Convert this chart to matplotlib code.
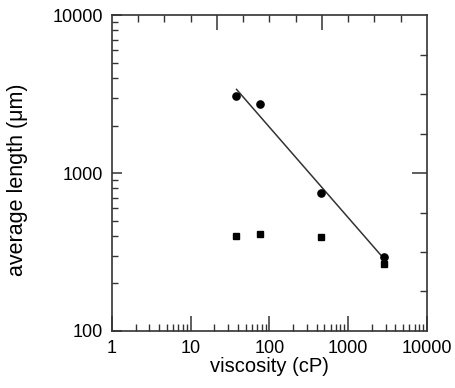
import numpy as np
import matplotlib
matplotlib.use("Agg")
import matplotlib.pyplot as plt
from matplotlib.ticker import LogLocator, NullFormatter, FixedLocator

plt.rcParams['font.family'] = ['Liberation Sans', 'DejaVu Sans']

viscosity = [37.6, 75.7, 451, 2870]
length_circles = [3085, 2735, 744, 295]
length_squares = [401, 411, 392, 264]
x_ticks = [1, 10, 100, 1000, 10000]
x_ticklabels = ['1', '10', '100', '1000', '10000']
y_ticks = [100, 1000, 10000]
y_ticklabels = ['100', '1000', '10000']

fig = plt.figure(figsize=(4.55, 3.88), dpi=100)
ax = fig.add_axes([0.246, 0.147, 0.692, 0.814])

spine_c = '#333333'
ax.plot(viscosity, length_circles, 'o', color='black', ms=5.2, zorder=3)
ax.plot(viscosity, length_squares, 's', color='black', ms=5, zorder=3)

# power-law fit to circles
lx = np.log10(viscosity)
ly = np.log10(length_circles)
k, b = np.polyfit(lx, ly, 1)
fx = np.array([38.3, 2737])
ax.plot(fx, 10 ** (k * np.log10(fx) + b), color='#333333', lw=1.1, zorder=2)

ax.set_xscale('log')
ax.set_yscale('log')
ax.set_xlim(1, 10000)
ax.set_ylim(100, 10000)
ax.set_xticks(x_ticks)
ax.set_xticklabels(x_ticklabels)
ax.set_yticks(y_ticks)
ax.set_yticklabels(y_ticklabels)
ax.xaxis.set_minor_locator(LogLocator(base=10, subs=np.arange(2, 10)))
ax.yaxis.set_minor_locator(LogLocator(base=10, subs=np.arange(2, 10)))
ax.xaxis.set_minor_formatter(NullFormatter())
ax.yaxis.set_minor_formatter(NullFormatter())
ax.tick_params(axis='x', which='major', direction='in', length=11, width=1.1, color=spine_c,
               labelsize=13, pad=6.5, top=False)
ax.tick_params(axis='x', which='minor', direction='in', length=5, width=1.0, color=spine_c, top=False)
ax.tick_params(axis='y', which='major', direction='in', length=7, width=1.1, color=spine_c,
               labelsize=13, pad=6.5, right=False)
ax.tick_params(axis='y', which='minor', direction='in', length=4, width=1.0, color=spine_c, right=False)
for s in ax.spines.values():
    s.set_color(spine_c)
    s.set_linewidth(1.2)

ax.set_xlabel('viscosity (cP)', fontsize=14.5, labelpad=0)
ax.set_ylabel('average length (μm)', fontsize=15.5)
ax.yaxis.set_label_coords(-0.267, 0.48)

# top and right evenly spaced ticks
axt = ax.twiny()
axt.set_xlim(0, 12)
axt.xaxis.set_major_locator(FixedLocator([4, 8]))
axt.xaxis.set_minor_locator(FixedLocator([1, 2, 3, 5, 6, 7, 9, 10, 11]))
axt.tick_params(axis='x', which='major', direction='in', length=11, width=1.1, color=spine_c, labeltop=False)
axt.tick_params(axis='x', which='minor', direction='in', length=5, width=1.0, color=spine_c)
for s in axt.spines.values():
    s.set_visible(False)

axr = ax.twinx()
axr.set_ylim(0, 8)
axr.yaxis.set_major_locator(FixedLocator([4]))
axr.yaxis.set_minor_locator(FixedLocator([1, 2, 3, 5, 6, 7]))
axr.tick_params(axis='y', which='major', direction='in', length=11, width=1.1, color=spine_c, labelright=False)
axr.tick_params(axis='y', which='minor', direction='in', length=5, width=1.0, color=spine_c)
for s in axr.spines.values():
    s.set_visible(False)

fig.savefig('out.png', dpi=100)
